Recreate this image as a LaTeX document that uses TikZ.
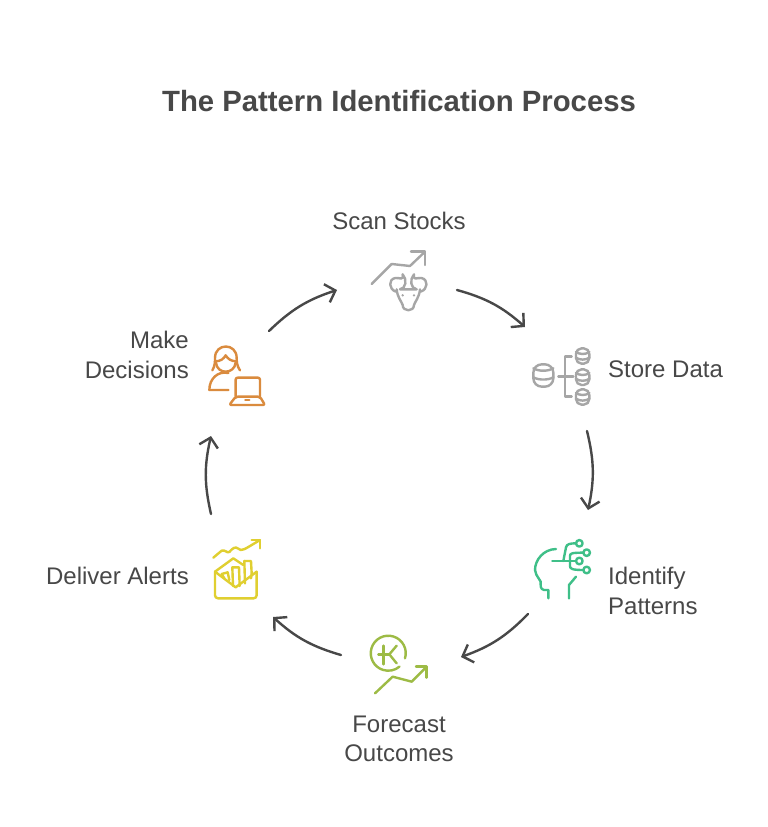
\documentclass[tikz,border=0pt]{standalone}
\usepackage{fontspec}
\setmainfont{Liberation Sans}
\usetikzlibrary{arrows.meta}
\definecolor{ink}{HTML}{484848}
\definecolor{igray}{HTML}{A6A6A6}
\definecolor{igreen}{HTML}{3FBF88}
\definecolor{ilime}{HTML}{9DBB45}
\definecolor{iyellow}{HTML}{E0CF30}
\definecolor{iorange}{HTML}{DA8B3E}
\tikzset{
  lab/.style={text=ink,font=\fontsize{24}{29.5}\selectfont,inner sep=0pt},
  ttl/.style={text=ink,font=\fontsize{29.3}{34}\selectfont\bfseries,inner sep=0pt},
  flow/.style={draw=ink,line width=2.4pt,line cap=round,-{Straight Barb[length=9pt,width=19pt,line width=2.4pt]}},
  ico/.style={line width=2.4pt,line cap=round,line join=round,fill=none},
  zoomed/.style={shift={#1},x=0.3333pt,y=-0.3333pt}
}
\newcommand{\minicyl}[5]{% cx top rx bottom ry
  \draw[rounded corners=#3*0.28pt] (#1-#3,#2) rectangle (#1+#3,#4);
  \draw (#1-#3,#2+#5*1.3) .. controls (#1-#3*0.5,#2+#5*2.4) and (#1+#3*0.5,#2+#5*2.4) .. (#1+#3,#2+#5*1.3);
  \draw (#1-#3,#2/2+#4/2+#5*0.6) .. controls (#1-#3*0.5,#2/2+#4/2+#5*1.6) and (#1+#3*0.5,#2/2+#4/2+#5*1.6) .. (#1+#3,#2/2+#4/2+#5*0.6);
}
\begin{document}
\begin{tikzpicture}[x=1pt,y=-1pt]
\useasboundingbox[fill=white] (0,0) rectangle (768,827);
\node[ttl] (title) at (399,101) {The Pattern Identification Process};
\node[lab] (scan) at (399,221) {Scan Stocks};
\node[lab,anchor=west] (store) at (608,369) {Store Data};
\node[lab,anchor=west,align=left] (identify) at (608,591) {Identify\\Patterns};
\node[lab,align=center] (forecast) at (399,739) {Forecast\\Outcomes};
\node[lab,anchor=east] (deliver) at (189,576) {Deliver Alerts};
\node[lab,anchor=east,align=right] (make) at (189,355) {Make\\Decisions};

\coordinate (a1) at (457,290); \coordinate (a2) at (525,327);
\coordinate (b1) at (587,431); \coordinate (b2) at (588,510);
\coordinate (c1) at (528,614); \coordinate (c2) at (461,657);
\coordinate (d1) at (341,655); \coordinate (d2) at (273,617);
\coordinate (e1) at (211,514); \coordinate (e2) at (211,436);
\coordinate (f1) at (269,331); \coordinate (f2) at (337,290);
\draw[flow] (a1) to[bend left=13] (a2);
\draw[flow] (b1) to[bend left=13] (b2);
\draw[flow] (c1) to[bend left=13] (c2);
\draw[flow] (d1) to[bend left=13] (d2);
\draw[flow] (e1) to[bend left=13] (e2);
\draw[flow] (f1) to[bend left=13] (f2);

% bull
\begin{scope}[zoomed={(350,240)},ico,draw=igray]
\draw (65,132) -- (125,72) -- (180,78) -- (225,35);
\draw (183,35) -- (225,35) -- (225,75);
\draw (138,155) .. controls (116,148) and (114,118) .. (136,114) .. controls (150,112) and (160,124) .. (158,103) .. controls (172,118) and (168,146) .. (150,148) -- (200,148) .. controls (182,146) and (178,118) .. (192,103) .. controls (190,124) and (200,112) .. (214,114) .. controls (236,118) and (234,148) .. (212,155);
\draw (140,148) .. controls (142,172) and (155,185) .. (158,195) .. controls (158,216) and (192,216) .. (192,195) .. controls (195,185) and (208,172) .. (210,148);
\fill[igray] (158,166) circle (1.3pt) (192,166) circle (1.3pt);
\end{scope}

% databases
\begin{scope}[zoomed={(520,335)},ico,draw=igray]
\minicyl{70}{88}{30}{155}{9}
\minicyl{188}{40}{20}{86}{8}
\minicyl{188}{103}{20}{150}{8}
\minicyl{188}{163}{20}{209}{8}
\draw (155,65) -- (135,65) -- (135,185) -- (155,185);
\draw (115,125) -- (160,125);
\end{scope}

% head
\begin{scope}[zoomed={(520,530)},ico,draw=igreen]
\draw (108,57) .. controls (70,58) and (45,90) .. (45,120) .. controls (45,130) and (50,135) .. (62,155) .. controls (62,165) and (60,178) .. (72,180) -- (85,180) -- (85,205);
\draw (147,205) -- (147,165) -- (168,140);
\draw (97,93) -- (168,93);
\draw (130,93) -- (138,52) .. controls (140,42) and (150,40) .. (168,40);
\draw (150,93) -- (150,78) .. controls (150,70) and (155,68) .. (190,68);
\draw (150,93) -- (150,108) .. controls (150,116) and (155,120) .. (190,120);
\draw (178,40) circle (3.3pt) (200,68) circle (3.3pt) (178,93) circle (3.3pt) (200,120) circle (3.3pt);
\end{scope}

% forecast
\begin{scope}[zoomed={(360,625)},ico,draw=ilime]
\draw (135,100) arc[start angle=-17,end angle=310,radius=17.5pt];
\draw (70,62) -- (70,118);
\draw (55,88) -- (88,88);
\draw (110,62) -- (88,88) -- (110,115);
\draw (45,205) -- (98,155) -- (155,170) -- (200,125);
\draw (168,125) -- (200,125) -- (200,158);
\end{scope}

% alerts
\begin{scope}[zoomed={(200,530)},ico,draw=iyellow]
\draw (40,83) -- (65,62) .. controls (75,58) and (80,70) .. (88,66) .. controls (98,55) and (105,48) .. (115,56) .. controls (125,65) and (130,60) .. (180,30);
\draw (155,30) -- (180,30) -- (180,55);
\draw[rounded corners=3pt] (45,125) -- (45,205) -- (170,205) -- (170,125);
\draw (45,125) -- (107,172) -- (170,125);
\draw (45,125) -- (100,85) -- (130,105);
\draw (65,132) -- (83,127) -- (88,150);
\draw (65,132) -- (73,145);
\draw (97,112) -- (117,112) -- (119,168);
\draw (97,112) -- (99,168);
\draw (133,93) -- (153,93) -- (155,130) -- (153,145);
\draw (133,93) -- (135,160);
\end{scope}

% decisions
\begin{scope}[zoomed={(205,342)},ico,draw=iorange]
\draw (22,85) .. controls (30,72) and (30,60) .. (30,48) .. controls (30,2) and (95,2) .. (95,48) .. controls (95,60) and (96,72) .. (105,85);
\draw (30,58) .. controls (48,58) and (56,50) .. (62,40) .. controls (68,50) and (78,58) .. (95,58);
\draw (33,62) .. controls (36,98) and (88,98) .. (92,62);
\end{scope}
\begin{scope}[zoomed={(200,340)},ico,draw=iorange]
\draw (85,99) .. controls (55,92) and (28,115) .. (28,150) -- (85,150);
\draw[rounded corners=2pt] (107,170) -- (107,113) -- (180,113) -- (180,170);
\draw[rounded corners=2pt] (107,170) -- (180,170) -- (195,195) -- (88,195) -- cycle;
\draw (136,180) -- (148,180);
\end{scope}
\end{tikzpicture}
\end{document}
